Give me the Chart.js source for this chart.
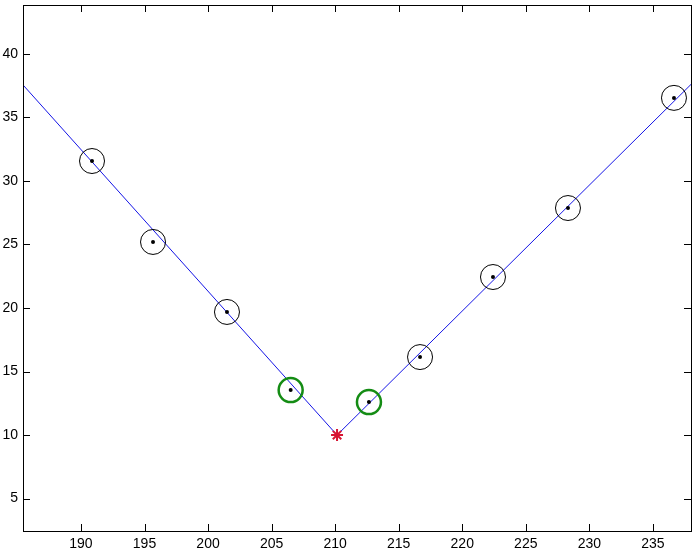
<!DOCTYPE html>
<html>
<head>
<meta charset="utf-8">
<script src="https://cdn.jsdelivr.net/npm/chart.js@4"></script>
<style>
  html, body { margin: 0; padding: 0; background: #fff; }
  #wrap { width: 699px; height: 549px; }
</style>
</head>
<body>
<div id="wrap"><canvas id="vChart"></canvas></div>
<script>
// measured points (black dot in every circle)
const pointX = [190.87, 195.67, 201.49, 206.5, 212.66, 216.68, 222.42, 228.32, 236.66];
const pointY = [31.57, 25.2, 19.69, 13.54, 12.6, 16.14, 22.44, 27.87, 36.54];
// which points get the green circle
const greenIdx = [3, 4];
// fitted V line: left end, vertex, right end
const lineX = [185.44, 210.15, 238];
const lineY = [37.56, 10, 37.6];
// vertex marker
const vertexX = [210.15];
const vertexY = [10];
// axis limits and tick values
const xRange = [185.44, 238];
const yRange = [2.45, 43.85];
const xTicks = [190, 195, 200, 205, 210, 215, 220, 225, 230, 235];
const yTicks = [5, 10, 15, 20, 25, 30, 35, 40];

const toXY = (xs, ys) => xs.map((x, i) => ({ x: x, y: ys[i] }));

const allPts = toXY(pointX, pointY);
const greenPts = allPts.filter((p, i) => greenIdx.includes(i));
const blackPts = allPts.filter((p, i) => !greenIdx.includes(i));

// box around plot area with inward ticks on all four sides (matlab style)
const boxPlugin = {
  id: 'box',
  afterDraw: (chart) => {
    const { ctx, chartArea: a, scales } = chart;
    const len = 7;
    ctx.save();
    ctx.strokeStyle = '#000';
    ctx.lineWidth = 1;
    ctx.beginPath();
    xTicks.forEach((v) => {
      const px = Math.round(scales.x.getPixelForValue(v)) + 0.5;
      ctx.moveTo(px, a.bottom); ctx.lineTo(px, a.bottom - len);
      ctx.moveTo(px, a.top); ctx.lineTo(px, a.top + len);
    });
    yTicks.forEach((v) => {
      const py = Math.round(scales.y.getPixelForValue(v)) + 0.5;
      ctx.moveTo(a.left, py); ctx.lineTo(a.left + len, py);
      ctx.moveTo(a.right, py); ctx.lineTo(a.right - len, py);
    });
    ctx.stroke();
    ctx.strokeRect(Math.round(a.left) + 0.5, Math.round(a.top) + 0.5,
      Math.round(a.right - a.left), Math.round(a.bottom - a.top));
    ctx.restore();
  }
};

const font = { family: "'Liberation Sans', Arial, sans-serif", size: 14 };

// fixed axis sizes, no extra padding for overhanging labels
const fixSize = (w, h) => (s) => {
  if (w !== null) s.width = w;
  if (h !== null) s.height = h;
  s.paddingTop = 0; s.paddingBottom = 0; s.paddingLeft = 0; s.paddingRight = 0;
};

new Chart(document.getElementById('vChart').getContext('2d'), {
  type: 'scatter',
  data: {
    datasets: [
      {
        data: toXY(lineX, lineY),
        showLine: true,
        borderColor: 'rgb(20, 20, 230)',
        borderWidth: 1,
        pointRadius: 0,
        order: 5,
      },
      {
        data: blackPts,
        pointStyle: 'circle',
        pointRadius: 12.5,
        pointBorderColor: '#000',
        pointBorderWidth: 1,
        pointBackgroundColor: 'rgba(0,0,0,0)',
        order: 4,
      },
      {
        data: greenPts,
        pointStyle: 'circle',
        pointRadius: 12,
        pointBorderColor: 'rgb(20, 140, 20)',
        pointBorderWidth: 2.5,
        pointBackgroundColor: 'rgba(0,0,0,0)',
        order: 3,
      },
      {
        data: allPts,
        pointStyle: 'circle',
        pointRadius: 2,
        pointBorderWidth: 0,
        pointBackgroundColor: '#000',
        order: 2,
      },
      {
        data: toXY(vertexX, vertexY),
        pointStyle: 'star',
        pointRadius: 6,
        pointBorderColor: 'rgb(215, 20, 50)',
        pointBorderWidth: 2,
        order: 1,
      },
    ],
  },
  options: {
    responsive: true,
    maintainAspectRatio: false,
    animation: false,
    layout: { autoPadding: false, padding: { top: 5, right: 8, left: 0, bottom: 0 } },
    plugins: { legend: { display: false }, tooltip: { enabled: false } },
    scales: {
      x: {
        type: 'linear',
        min: xRange[0],
        max: xRange[1],
        grid: { display: false, drawTicks: false },
        border: { display: false },
        afterFit: fixSize(null, 18),
        ticks: {
          stepSize: 5,
          includeBounds: false,
          padding: 5,
          color: '#000',
          font: font,
          maxRotation: 0,
        },
      },
      y: {
        type: 'linear',
        min: yRange[0],
        max: yRange[1],
        grid: { display: false, drawTicks: false },
        border: { display: false },
        afterFit: fixSize(23, null),
        ticks: {
          stepSize: 5,
          includeBounds: false,
          padding: 5,
          color: '#000',
          font: font,
        },
      },
    },
  },
  plugins: [boxPlugin],
});
</script>
</body>
</html>
